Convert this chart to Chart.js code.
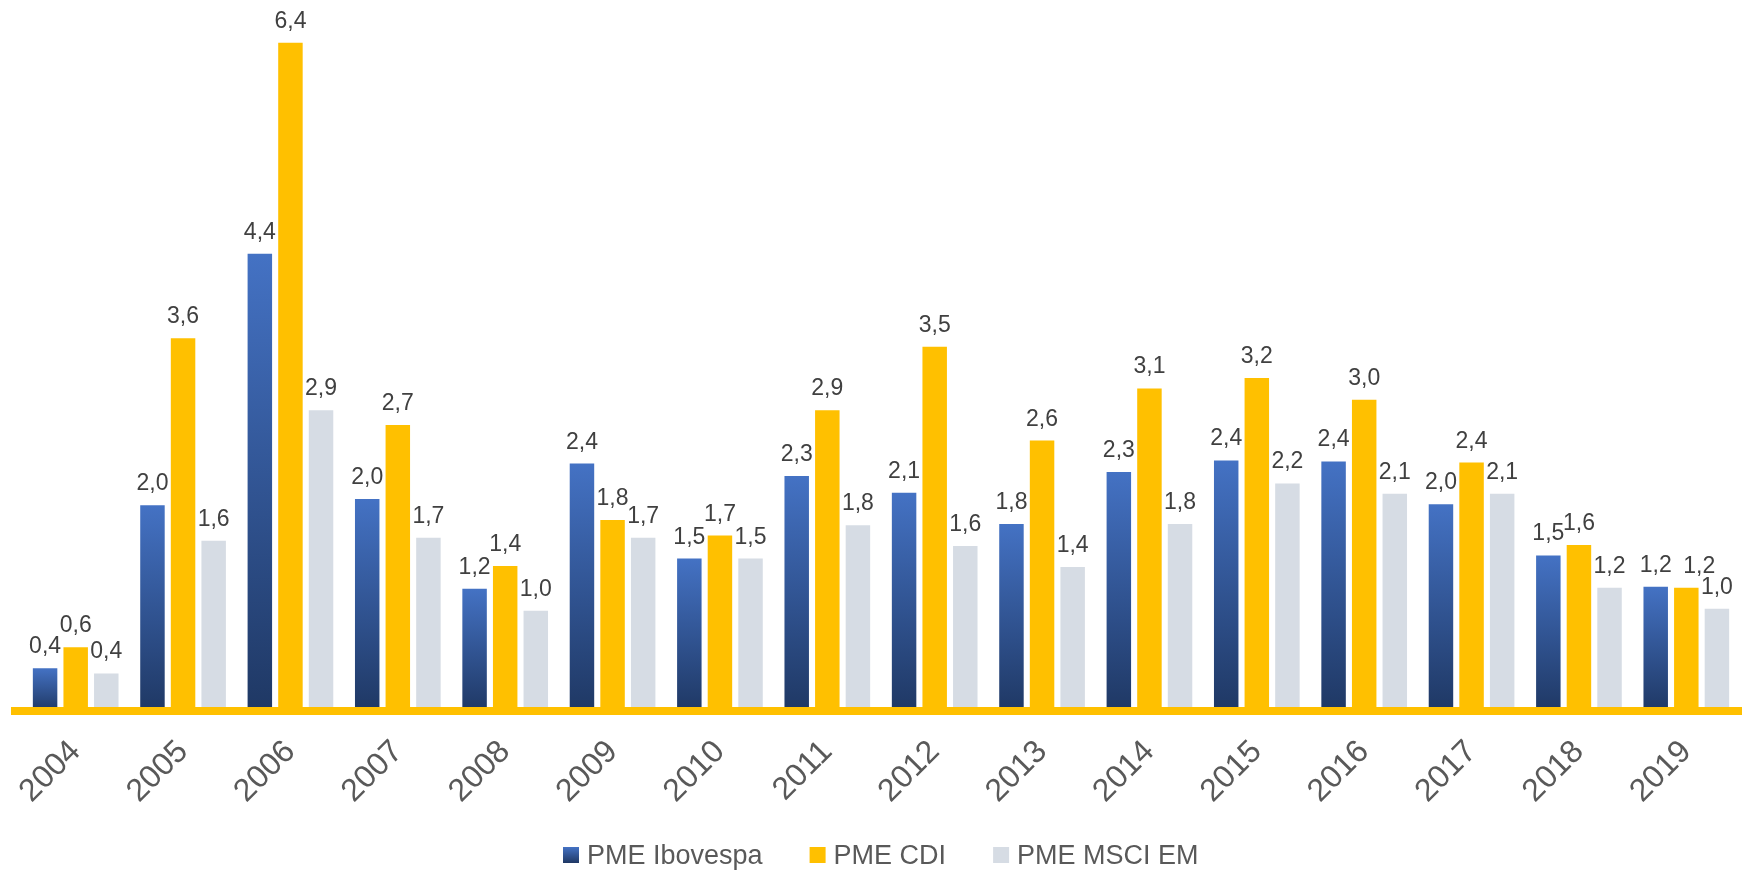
<!DOCTYPE html>
<html>
<head>
<meta charset="utf-8">
<script src="https://cdn.jsdelivr.net/npm/chart.js@4/dist/chart.umd.min.js"></script>
<style>
  html, body { margin: 0; padding: 0; background: #ffffff; }
  #wrap { width: 1742px; height: 871px; }
</style>
</head>
<body>
<div id="wrap"><canvas id="c" width="1742" height="871"></canvas></div>
<script>
const years = ['2004','2005','2006','2007','2008','2009','2010','2011','2012','2013','2014','2015','2016','2017','2018','2019'];
const pmeIbovespa = [0.41, 1.97, 4.38, 2.03, 1.17, 2.37, 1.46, 2.25, 2.09, 1.79, 2.29, 2.40, 2.39, 1.98, 1.49, 1.19];
const pmeCDI      = [0.61, 3.57, 6.40, 2.74, 1.39, 1.83, 1.68, 2.88, 3.49, 2.59, 3.09, 3.19, 2.98, 2.38, 1.59, 1.18];
const pmeMSCI     = [0.36, 1.63, 2.88, 1.66, 0.96, 1.66, 1.46, 1.78, 1.58, 1.38, 1.79, 2.18, 2.08, 2.08, 1.18, 0.98];
const seriesNames = ['PME Ibovespa', 'PME CDI', 'PME MSCI EM'];

const MAIN_FONT = "'Liberation Sans', Arial, sans-serif";
const IBOV_TOP = '#4472C4', IBOV_BOTTOM = '#1F3864';
const CDI_COLOR = '#FFC000', MSCI_COLOR = '#D6DCE4';

function ibovFill(context) {
  const chart = context.chart;
  const c = chart.ctx;
  if (context.type === 'data' && chart.scales && chart.scales.y) {
    const ys = chart.scales.y;
    const top = ys.getPixelForValue(context.raw);
    const bot = ys.getPixelForValue(0);
    if (!isFinite(top) || !isFinite(bot) || top === bot) return IBOV_TOP;
    const g = c.createLinearGradient(0, top, 0, bot);
    g.addColorStop(0, IBOV_TOP);
    g.addColorStop(1, IBOV_BOTTOM);
    return g;
  }
  return IBOV_TOP;
}

const axisLinePlugin = {
  id: 'axisLine',
  afterDatasetsDraw(chart) {
    const c = chart.ctx;
    const y0 = chart.scales.y.getPixelForValue(0);
    c.save();
    c.fillStyle = CDI_COLOR;
    c.fillRect(11, y0 - 4, chart.width - 11, 8);
    c.restore();
  }
};

// small horizontal nudge for one crowded label (dataset-index, category-index)
const labelNudge = { '1-15': 13 };

const valueLabelPlugin = {
  id: 'valueLabels',
  afterDatasetsDraw(chart) {
    const c = chart.ctx;
    c.save();
    c.font = "23px " + MAIN_FONT;
    c.fillStyle = '#404040';
    c.textAlign = 'center';
    c.textBaseline = 'alphabetic';
    chart.data.datasets.forEach((ds, di) => {
      const meta = chart.getDatasetMeta(di);
      meta.data.forEach((el, i) => {
        const v = ds.data[i];
        const txt = v.toFixed(1).replace('.', ',');
        const dx = labelNudge[di + '-' + i] || 0;
        c.fillText(txt, el.x + dx, el.y - 15);
      });
    });
    c.restore();
  }
};

const customLegendPlugin = {
  id: 'customLegend',
  afterDraw(chart) {
    const c = chart.ctx;
    let x = 563;
    const boxTop = 847, boxH = 16, boxW = 16, baseline = 864;
    c.save();
    c.font = "27px " + MAIN_FONT;
    c.textBaseline = 'alphabetic';
    c.textAlign = 'left';
    chart.data.datasets.forEach((ds, di) => {
      let fill;
      if (di === 0) {
        fill = c.createLinearGradient(0, boxTop, 0, boxTop + boxH);
        fill.addColorStop(0, IBOV_TOP);
        fill.addColorStop(1, IBOV_BOTTOM);
      } else {
        fill = ds.backgroundColor;
      }
      c.fillStyle = fill;
      c.fillRect(x, boxTop, boxW, boxH);
      const tx = x + boxW + 8;
      const w = c.measureText(ds.label).width;
      c.fillStyle = '#595959';
      c.fillText(ds.label, tx, baseline);
      x = tx + w + 47;
    });
    c.restore();
  }
};

new Chart(document.getElementById('c'), {
  type: 'bar',
  data: {
    labels: years,
    datasets: [
      { label: seriesNames[0], data: pmeIbovespa, backgroundColor: ibovFill, borderWidth: 0 },
      { label: seriesNames[1], data: pmeCDI, backgroundColor: CDI_COLOR, borderWidth: 0 },
      { label: seriesNames[2], data: pmeMSCI, backgroundColor: MSCI_COLOR, borderWidth: 0 }
    ]
  },
  options: {
    responsive: false,
    animation: false,
    devicePixelRatio: 1,
    layout: { padding: { left: 22, right: 2, top: 0, bottom: 0 } },
    datasets: { bar: { categoryPercentage: 0.855, barPercentage: 0.8 } },
    plugins: {
      tooltip: { enabled: false },
      legend: { display: false }
    },
    scales: {
      x: {
        grid: { display: false, drawTicks: false },
        border: { display: false },
        ticks: {
          color: '#595959',
          font: { family: MAIN_FONT, size: 32 },
          minRotation: 45,
          maxRotation: 45,
          padding: 22,
          autoSkip: false
        },
        afterFit(s) {
          s.height = 871 - 711;
        }
      },
      y: {
        display: false,
        min: 0,
        max: 6.81
      }
    }
  },
  plugins: [axisLinePlugin, valueLabelPlugin, customLegendPlugin]
});
</script>
</body>
</html>
